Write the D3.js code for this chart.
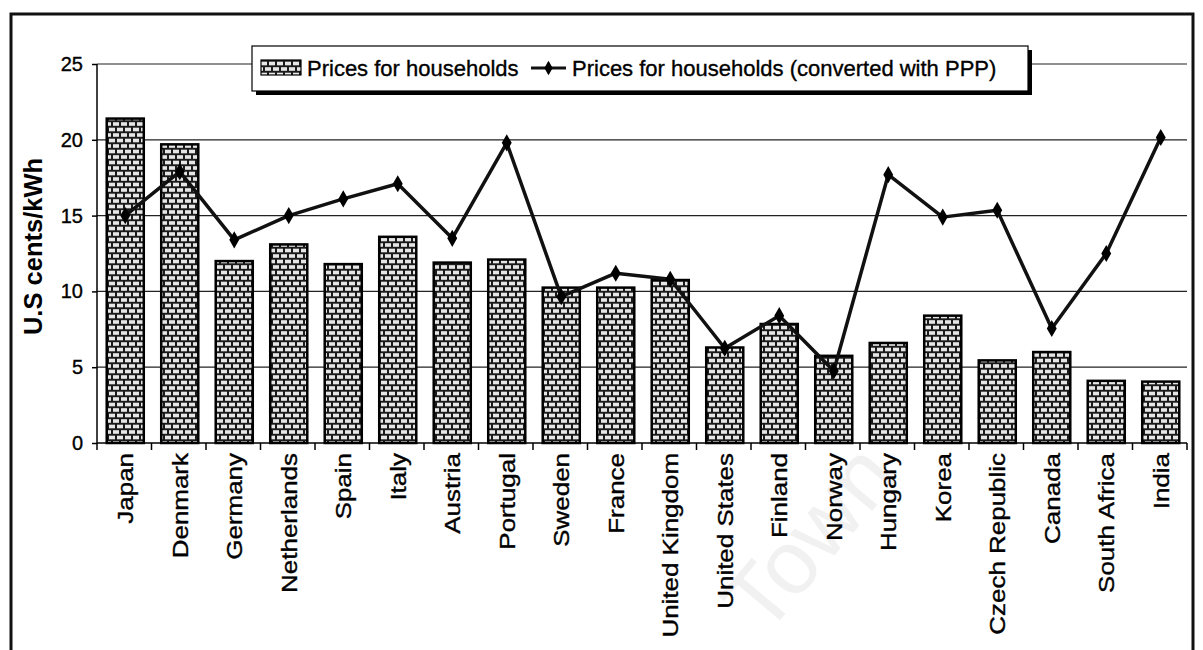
<!DOCTYPE html>
<html>
<head>
<meta charset="utf-8">
<script src="https://cdn.jsdelivr.net/npm/d3@7"></script>
<style>
  body { margin: 0; background: #fff; }
  svg { display: block; font-family: "Liberation Sans", Arial, sans-serif; }
  .ink { stroke: #000; stroke-width: 0.35px; }
</style>
</head>
<body>
<svg id="chart" width="1203" height="650"></svg>
<script>
(function() {
    var width = 1203, height = 650

    const countries = ["Japan", "Denmark", "Germany", "Netherlands", "Spain", "Italy", "Austria",
        "Portugal", "Sweden", "France", "United Kingdom", "United States", "Finland", "Norway",
        "Hungary", "Korea", "Czech Republic", "Canada", "South Africa", "India"];
    const households = [21.4, 19.7, 12.0, 13.1, 11.8, 13.6, 11.9, 12.1, 10.25, 10.25, 10.75,
        6.3, 7.85, 5.75, 6.6, 8.4, 5.45, 6.0, 4.1, 4.05];
    const householdsPPP = [15.0, 17.9, 13.4, 15.0, 16.1, 17.1, 13.5, 19.8, 9.65, 11.2, 10.8,
        6.25, 8.4, 4.75, 17.7, 14.9, 15.35, 7.55, 12.5, 20.15];
    const yTicks = [0, 5, 10, 15, 20, 25];
    const legendLabels = ["Prices for households", "Prices for households (converted with PPP)"];

    const left = 97, right = 1187, top = 64, bottom = 443;

    const svg = d3.select("#chart");

    // brick pattern for the bars
    const defs = svg.append("defs");
    const brick = defs.append("pattern")
        .attr("id", "brick")
        .attr("patternUnits", "userSpaceOnUse")
        .attr("width", 8).attr("height", 11);
    brick.append("rect").attr("width", 8).attr("height", 11).attr("fill", "#1a1a1a");
    brick.append("rect").attr("x", 1).attr("y", 1.2).attr("width", 6).attr("height", 3.6).attr("fill", "#e6e6e6");
    brick.append("rect").attr("x", -3).attr("y", 6.7).attr("width", 6).attr("height", 3.6).attr("fill", "#e6e6e6");
    brick.append("rect").attr("x", 5).attr("y", 6.7).attr("width", 6).attr("height", 3.6).attr("fill", "#e6e6e6");

    // faint watermark
    svg.append("text")
        .attr("transform", "translate(765,638) rotate(-50)")
        .attr("font-size", 90)
        .attr("fill", "#f1f1f1")
        .text("Town");

    // outer frame
    svg.append("path")
        .attr("d", `M11,${height + 5} V14 H1193 V${height + 5}`)
        .attr("fill", "none")
        .attr("stroke", "#111")
        .attr("stroke-width", 3);

    let x = d3.scaleBand()
        .domain(countries)
        .range([left, right])
        .paddingInner(0.32)
        .paddingOuter(0.16);

    let y = d3.scaleLinear()
        .domain([0, 25])
        .range([bottom, top]);

    const step = x.step();
    const center = (d) => x(d) + x.bandwidth() / 2 + 1;

    // gridlines
    svg.append("g")
        .selectAll("line")
        .data(yTicks.filter(d => d > 0))
        .join("line")
        .attr("x1", left).attr("x2", right)
        .attr("y1", d => y(d)).attr("y2", d => y(d))
        .attr("stroke", "#222")
        .attr("stroke-width", 1.2);

    // bars
    svg.append("g")
        .selectAll("rect")
        .data(countries)
        .join("rect")
        .attr("x", (d) => x(d) + 1)
        .attr("y", (d, i) => y(households[i]))
        .attr("width", x.bandwidth())
        .attr("height", (d, i) => y(0) - y(households[i]))
        .attr("fill", "url(#brick)")
        .attr("stroke", "#000")
        .attr("stroke-width", 2.5);

    // y axis
    let yAxis = svg.append("g")
        .attr("transform", `translate(${left},0)`)
        .call(d3.axisLeft(y).tickValues(yTicks).tickSize(5).tickPadding(10).tickFormat(d3.format("d")));
    yAxis.select(".domain").attr("stroke", "#000").attr("stroke-width", 1.5).attr("d", `M0,${top}V${bottom}`);
    yAxis.selectAll(".tick line").attr("stroke", "#000").attr("stroke-width", 1.5);
    yAxis.selectAll(".tick text")
        .attr("class", "ink")
        .attr("font-size", 20)
        .attr("font-family", "Liberation Sans, Arial, sans-serif")
        .attr("fill", "#000")
        .attr("x", -14);

    // x axis with ticks at category boundaries
    let xAxis = svg.append("g");
    xAxis.append("line")
        .attr("x1", left).attr("x2", right)
        .attr("y1", bottom).attr("y2", bottom)
        .attr("stroke", "#000").attr("stroke-width", 1.5);
    xAxis.selectAll(".boundary")
        .data(d3.range(countries.length + 1))
        .join("line")
        .attr("class", "boundary")
        .attr("x1", (i) => left + i * step).attr("x2", (i) => left + i * step)
        .attr("y1", bottom).attr("y2", bottom + 7)
        .attr("stroke", "#000").attr("stroke-width", 1.5);
    xAxis.selectAll("text")
        .data(countries)
        .join("text")
        .attr("class", "ink")
        .attr("transform", (d) => `translate(${center(d)},${bottom + 10}) rotate(-90) scale(1.18,1)`)
        .attr("text-anchor", "end")
        .attr("dy", "0.36em")
        .attr("font-size", 22)
        .attr("fill", "#000")
        .text((d) => d);

    // y axis title
    svg.append("text")
        .attr("transform", `translate(33,${(top + bottom) / 2 - 7}) rotate(-90)`)
        .attr("text-anchor", "middle")
        .attr("dy", "0.36em")
        .attr("font-size", 25.5)
        .attr("font-weight", "bold")
        .attr("fill", "#000")
        .text("U.S cents/kWh");

    // PPP line
    let line = d3.line()
        .x((d, i) => center(countries[i]))
        .y((d) => y(d));

    svg.append("path")
        .datum(householdsPPP)
        .attr("d", line)
        .attr("fill", "none")
        .attr("stroke", "#111")
        .attr("stroke-width", 3.5)
        .attr("stroke-linejoin", "round");

    const diamond = d3.symbol().type(d3.symbolDiamond).size(85);
    svg.append("g")
        .selectAll("path")
        .data(householdsPPP)
        .join("path")
        .attr("transform", (d, i) => `translate(${center(countries[i])},${y(d)})`)
        .attr("d", diamond)
        .attr("fill", "#000");

    // legend
    let legend = svg.append("g");
    legend.append("rect")
        .attr("x", 256).attr("y", 50).attr("width", 776).attr("height", 45)
        .attr("fill", "#000");
    legend.append("rect")
        .attr("x", 252).attr("y", 46).attr("width", 776).attr("height", 45)
        .attr("fill", "#fff").attr("stroke", "#000").attr("stroke-width", 1.2);
    legend.append("rect")
        .attr("x", 261).attr("y", 60).attr("width", 40).attr("height", 15)
        .attr("fill", "url(#brick)")
        .attr("stroke", "#000").attr("stroke-width", 1.2);
    legend.append("text")
        .attr("class", "ink")
        .attr("x", 307).attr("y", 76)
        .attr("font-size", 22)
        .attr("fill", "#000")
        .text(legendLabels[0]);
    legend.append("line")
        .attr("x1", 531).attr("x2", 566).attr("y1", 68).attr("y2", 68)
        .attr("stroke", "#111").attr("stroke-width", 3);
    legend.append("path")
        .attr("transform", "translate(548.5,68)")
        .attr("d", d3.symbol().type(d3.symbolDiamond).size(60))
        .attr("fill", "#000");
    legend.append("text")
        .attr("class", "ink")
        .attr("x", 572).attr("y", 76)
        .attr("font-size", 22)
        .attr("fill", "#000")
        .text(legendLabels[1]);
})()
</script>
</body>
</html>
